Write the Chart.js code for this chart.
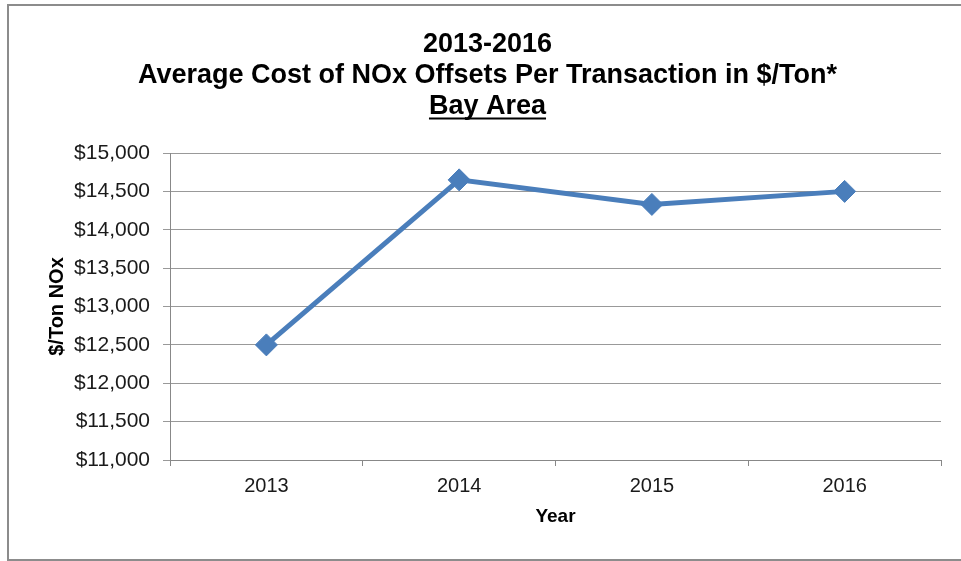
<!DOCTYPE html>
<html>
<head>
<meta charset="utf-8">
<script src="https://cdn.jsdelivr.net/npm/chart.js@4.4.0/dist/chart.umd.min.js"></script>
<style>
  html, body { margin: 0; padding: 0; background: #fff; }
  #wrap { width: 961px; height: 561px; position: relative; }
</style>
</head>
<body>
<div id="wrap"><canvas id="chart" width="961" height="561"></canvas></div>
<script>
// values
const years = ["2013", "2014", "2015", "2016"];
const costPerTon = [12500, 14650, 14330, 14500];
const titleLines = ["2013-2016", "Average Cost of NOx Offsets Per Transaction in $/Ton*", "Bay Area"];
const yAxisTitle = "$/Ton NOx";
const xAxisTitle = "Year";

const FONT = "'Liberation Sans', Arial, sans-serif";
const TITLE_SIZE = 27;
const TITLE_LH = 31;

// frame around the chart + underline under the last title line
const decorations = {
  id: "decorations",
  afterDraw(chart) {
    const ctx = chart.ctx;
    ctx.save();
    ctx.strokeStyle = "#8c8c8c";
    ctx.lineWidth = 2;
    ctx.beginPath();
    ctx.moveTo(961, 5);
    ctx.lineTo(8, 5);
    ctx.lineTo(8, 560);
    ctx.lineTo(961, 560);
    ctx.stroke();

    const t = chart.titleBlock;
    const pad = chart.options.plugins.title.padding;
    ctx.font = "bold " + TITLE_SIZE + "px " + FONT;
    const last = titleLines[titleLines.length - 1];
    const w = ctx.measureText(last).width;
    const cx = (t.left + t.right) / 2;
    const y = t.top + pad.top + TITLE_LH * (titleLines.length - 1) + TITLE_LH / 2 + 12;
    ctx.strokeStyle = "#000";
    ctx.lineWidth = 2;
    ctx.beginPath();
    ctx.moveTo(cx - w / 2, y);
    ctx.lineTo(cx + w / 2, y);
    ctx.stroke();
    ctx.restore();
  }
};

const ctx = document.getElementById("chart").getContext("2d");
new Chart(ctx, {
  type: "line",
  data: {
    labels: years,
    datasets: [
      {
        label: "Average cost",
        data: costPerTon,
        borderColor: "#4a7ebb",
        backgroundColor: "#4a7ebb",
        borderWidth: 5,
        pointStyle: "rectRot",
        pointRadius: 11,
        pointHoverRadius: 11,
        pointBorderWidth: 1,
        tension: 0,
        fill: false,
      },
    ],
  },
  options: {
    responsive: false,
    animation: false,
    layout: { padding: { left: 34, right: 20, top: 0, bottom: 0 } },
    plugins: {
      legend: { display: false },
      tooltip: { enabled: false },
      title: {
        display: true,
        text: titleLines,
        color: "#000",
        font: { family: FONT, size: TITLE_SIZE, weight: "bold", lineHeight: TITLE_LH + "px" },
        padding: { top: 29, bottom: 31 },
      },
    },
    scales: {
      x: {
        offset: true,
        afterFit: (scale) => { scale.height = 101; },
        grid: {
          offset: true,
          drawOnChartArea: false,
          drawTicks: true,
          tickLength: 6,
          color: "#888",
        },
        border: { color: "#888", width: 1 },
        ticks: { color: "#1a1a1a", font: { family: FONT, size: 20 }, padding: 8 },
        title: {
          display: true,
          text: xAxisTitle,
          color: "#000",
          font: { family: FONT, size: 19, weight: "bold" },
          padding: { top: 0, bottom: 33 },
        },
      },
      y: {
        min: 11000,
        max: 15000,
        afterFit: (scale) => { scale.width = 136; },
        grid: { color: "#999", tickLength: 7, drawTicks: true },
        border: { color: "#888", width: 1 },
        ticks: {
          stepSize: 500,
          color: "#1a1a1a",
          font: { family: FONT, size: 21 },
          padding: 13,
          callback: (v) => "$" + v.toLocaleString("en-US"),
        },
        title: {
          display: true,
          text: yAxisTitle,
          color: "#000",
          font: { family: FONT, size: 20, weight: "bold" },
          padding: { top: 11, bottom: 0 },
        },
      },
    },
  },
  plugins: [decorations],
});
</script>
</body>
</html>
